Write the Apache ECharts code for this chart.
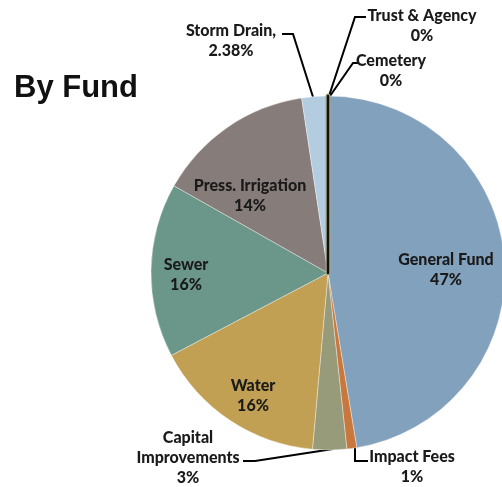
<!DOCTYPE html>
<html>
<head>
<meta charset="utf-8">
<script src="https://cdn.jsdelivr.net/npm/echarts@6/dist/echarts.min.js"></script>
<style>
  html, body { margin: 0; padding: 0; background: #fff; }
  #chart { width: 502px; height: 487px; }
</style>
</head>
<body>
<div id="chart"></div>
<script>
// Fund shares (percent of total), clockwise from 12 o'clock
const funds = ['General Fund', 'Impact Fees', 'Capital Improvements', 'Water', 'Sewer',
               'Press. Irrigation', 'Storm Drain', 'Trust & Agency', 'Cemetery'];
const shares = [47.4, 0.9, 3.1, 15.9, 15.9, 14.42, 2.38, 0, 0];
const colors = ['#82a1bc', '#c9783d', '#979b7a', '#c1a053', '#6b978b',
                '#867c79', '#b4cce0', '#a4a886', '#111111'];
const zeroBorder = [0, 0, 0, 0, 0, 0, 0, 5, 2.5];
// Label text lines for each fund
const labelNames = ['General Fund', 'Impact Fees', 'Capital\nImprovements', 'Water', 'Sewer',
                    'Press. Irrigation', 'Storm Drain,', 'Trust & Agency', 'Cemetery'];
const labelDecimals = [0, 0, 0, 0, 0, 0, 2, 0, 0];
const outsideLabels = ['Impact Fees', 'Capital Improvements', 'Storm Drain', 'Trust & Agency', 'Cemetery'];

// Where each label block sits, and the bend points of its leader line
const labelSpots = {
  'General Fund':         { x: 446, y: 270 },
  'Impact Fees':          { x: 412, y: 467, line: [[355, 446], [355, 461], [368, 461]] },
  'Capital Improvements': { x: 188, y: 458, line: [[333, 449], [255, 461], [243, 461]] },
  'Water':                { x: 253, y: 396 },
  'Sewer':                { x: 186, y: 275 },
  'Press. Irrigation':    { x: 250, y: 196 },
  'Storm Drain':          { x: 231, y: 41,  line: [[313, 97], [293, 34], [282, 34]] },
  'Trust & Agency':       { x: 422, y: 26,  line: [[329, 96], [355, 17], [366, 17]] },
  'Cemetery':             { x: 391, y: 71,  line: [[330, 96], [353, 63], [358, 63]] }
};

const chart = echarts.init(document.getElementById('chart'));

const data = funds.map((name, i) => {
  const outside = outsideLabels.indexOf(name) >= 0;
  return {
    name: name,
    value: shares[i],
    itemStyle: zeroBorder[i]
      ? { color: colors[i], borderColor: colors[i], borderWidth: zeroBorder[i] }
      : { color: colors[i] },
    label: { position: outside ? 'outside' : 'inside' },
    labelLine: { show: outside }
  };
});

chart.setOption({
  animation: false,
  title: {
    text: 'By Fund',
    left: 9,
    top: 68,
    textStyle: {
      fontFamily: 'Liberation Sans',
      fontWeight: 'bold',
      fontSize: 31,
      color: '#111'
    }
  },
  series: [{
    type: 'pie',
    center: [328, 273],
    radius: 177,
    startAngle: 90,
    clockwise: true,
    avoidLabelOverlap: false,
    itemStyle: {
      borderColor: 'rgba(255,255,255,0.45)',
      borderWidth: 0.8
    },
    label: {
      show: true,
      fontFamily: 'Lato',
      fontWeight: 900,
      fontSize: 16,
      lineHeight: 20,
      color: '#1a1a1a',
      align: 'center',
      formatter: function (p) {
        const i = p.dataIndex;
        return labelNames[i] + '\n' + shares[i].toFixed(labelDecimals[i]) + '%';
      }
    },
    labelLine: {
      show: true,
      lineStyle: { color: '#000', width: 2 }
    },
    labelLayout: function (params) {
      const spot = labelSpots[funds[params.dataIndex]];
      const out = { x: spot.x, y: spot.y, align: 'center', verticalAlign: 'middle' };
      if (spot.line) out.labelLinePoints = spot.line;
      return out;
    },
    emphasis: { disabled: true },
    data: data
  }]
});
</script>
</body>
</html>
